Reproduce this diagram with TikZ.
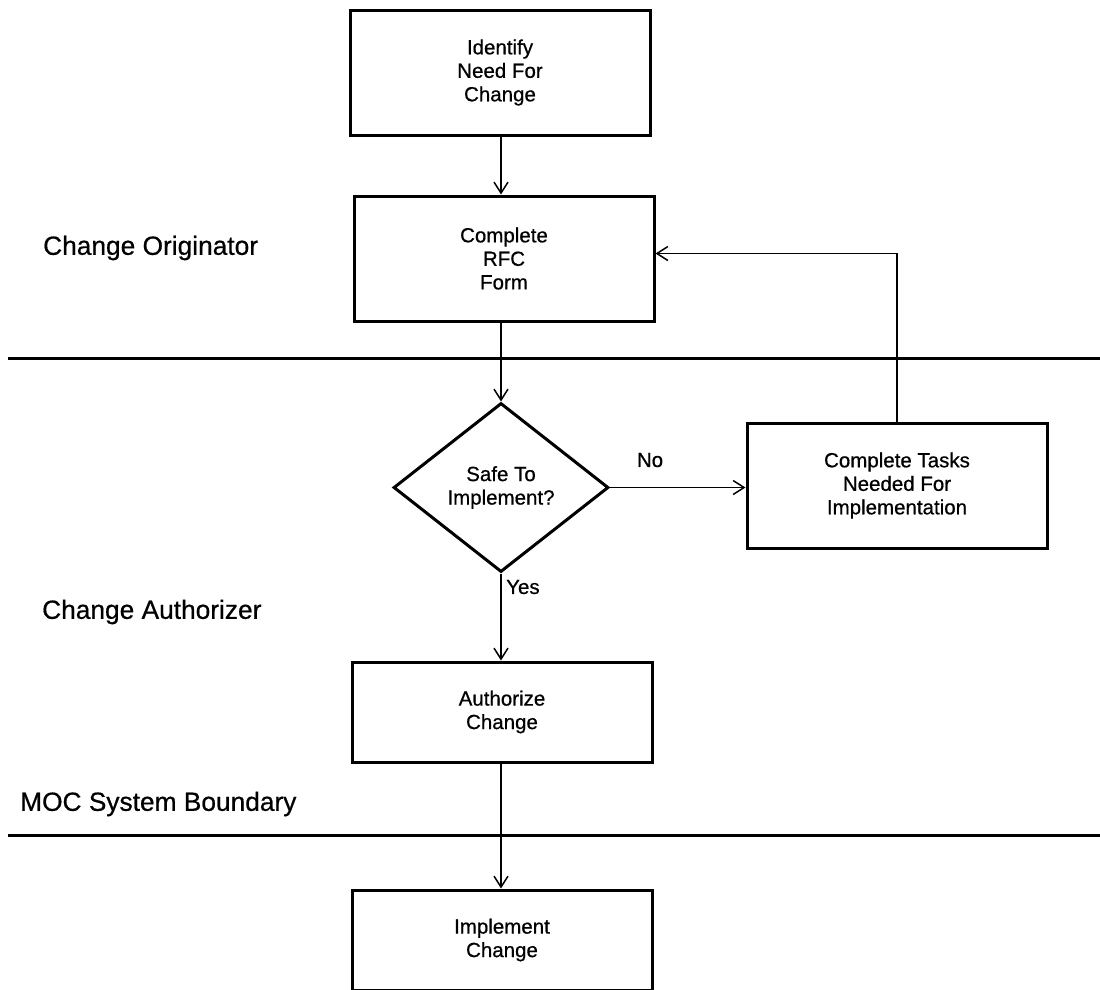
\documentclass[tikz,border=0pt]{standalone}
\usepackage{fontspec}
\setmainfont{Liberation Sans}[FakeBold=0.6]
\newfontfamily\heavy{Liberation Sans}[FakeBold=0.6]
\usetikzlibrary{arrows.meta,shapes.geometric,calc}
\begin{document}
\begin{tikzpicture}[x=1pt,y=-1pt,
  box/.style={draw,line width=3pt,minimum width=300pt,minimum height=125pt,align=center,inner sep=0pt,font=\heavy\fontsize{20.5}{23.5}\selectfont},
  shortbox/.style={box,minimum height=100pt},
  decision/.style={draw,diamond,line width=3pt,minimum width=215pt,minimum height=169pt,align=center,inner sep=0pt,font=\heavy\fontsize{20.5}{23.5}\selectfont},
  conn/.style={line width=1.5pt,-{Straight Barb[length=11pt,width=14pt,line width=1.5pt]}},
  sep/.style={line width=3pt},
  lane/.style={anchor=west,inner sep=0pt,font=\heavy\fontsize{26.3}{30}\selectfont},
  edgelab/.style={inner sep=0pt,font=\heavy\fontsize{20.5}{23.5}\selectfont}]
\useasboundingbox (0,0) rectangle (1100,989);
% lane separators
\coordinate (s1a) at (8,358);
\coordinate (s1b) at (1100,358);
\coordinate (s2a) at (8,835);
\coordinate (s2b) at (1100,835);
\draw[sep] (s1a) -- (s1b);
\draw[sep] (s2a) -- (s2b);
% lane labels
\node[lane] (l1) at (43,248) {Change Originator};
\node[lane] (l2) at (42,612) {Change Authorizer};
\node[lane] (l3) at (20,804) {MOC System Boundary};
% nodes
\node[box] (b1) at (500,72.5) {Identify\\Need For\\Change};
\node[box] (b2) at (504,258.5) {Complete\\RFC\\Form};
\node[decision] (d) at (501,487.5) {Safe To\\Implement?};
\node[box] (b3) at (897,485.5) {Complete Tasks\\Needed For\\Implementation};
\node[shortbox] (b4) at (502,712) {Authorize\\Change};
\node[shortbox] (b5) at (502,940) {Implement\\Change};
% connectors
\draw[conn] (b1.south -| d.north) -- (b2.north -| d.north);
\draw[conn] (b2.south -| d.north) -- (d.north);
\draw[conn] (d.east) -- (d.east -| b3.west);
\draw[conn] (d.south) -- (b4.north -| d.south);
\draw[conn] (b4.south -| d.south) -- (b5.north -| d.south);
\draw[conn] (b3.north) |- ([yshift=5pt]b2.east);
% edge labels
\node[edgelab] (no) at (650,460) {No};
\node[edgelab,anchor=west] (yes) at (506,587) {Yes};
\end{tikzpicture}
\end{document}
